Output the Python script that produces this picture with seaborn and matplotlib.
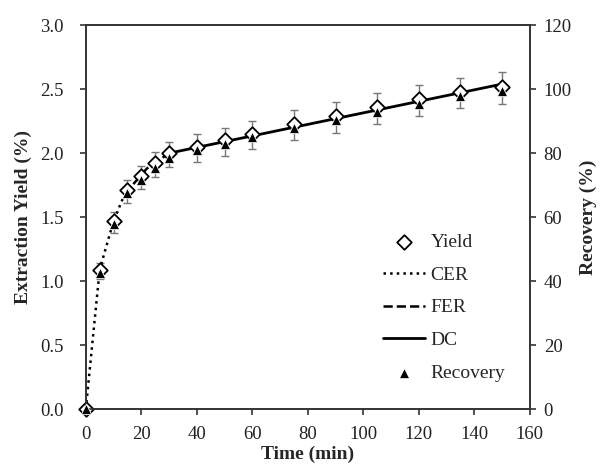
import numpy as np
import pandas as pd
import matplotlib
matplotlib.use("Agg")
from matplotlib import pyplot as plt
import seaborn as sns

# data
time = [0, 5, 10, 15, 20, 25, 30, 40, 50, 60, 75, 90, 105, 120, 135, 150]
yield_pct = [0.0, 1.09, 1.47, 1.71, 1.82, 1.92, 2.00, 2.05, 2.10, 2.15, 2.23, 2.29, 2.36, 2.42, 2.48, 2.52]
yield_err = [0.0, 0.06, 0.08, 0.09, 0.09, 0.10, 0.10, 0.11, 0.11, 0.11, 0.12, 0.12, 0.12, 0.12, 0.12, 0.125]
recovery = [0, 42.5, 58, 67.5, 71.5, 75.5, 78.5, 81, 83, 85, 88, 90.5, 93, 95.5, 98, 99.5]

cer_t = [0, 5, 10, 14]
cer_y = [0.0, 1.09, 1.47, 1.68]
fer_t = [14, 22, 30]
fer_y = [1.68, 1.88, 2.00]
dc_t = [30, 150]
dc_y = [2.00, 2.54]

df = pd.DataFrame({"time": time, "yield": yield_pct, "recovery": recovery})

sns.set_style("ticks")
plt.rcParams["font.family"] = ["Liberation Serif", "DejaVu Serif"]
plt.rcParams["font.size"] = 14

fig = plt.figure(figsize=(6, 4.67), dpi=100)
ax = fig.add_axes([0.143, 0.124, 0.74, 0.822])
ax2 = ax.twinx()

ax.errorbar(time, [y - 0.01 for y in yield_pct], yerr=yield_err, fmt="none",
            ecolor="#777777", elinewidth=1, capsize=3, zorder=2)
sns.lineplot(x=cer_t, y=cer_y, ax=ax, color="black", linestyle=":", lw=1.8, label="CER")
sns.lineplot(x=fer_t, y=fer_y, ax=ax, color="black", linestyle="--", lw=1.8, label="FER")
sns.lineplot(x=dc_t, y=dc_y, ax=ax, color="black", linestyle="-", lw=2.0, label="DC")
sns.scatterplot(data=df, x="time", y="yield", ax=ax, marker="D", s=55, clip_on=False,
                facecolor="white", edgecolor="black", linewidth=1.3, zorder=4, label="Yield")
sns.scatterplot(data=df, x="time", y="recovery", ax=ax2, marker="^", s=55, clip_on=False,
                color="black", zorder=5, label="Recovery")

ax.set_xlim(0, 160)
ax.set_ylim(0, 3.0)
ax2.set_ylim(0, 120)
ax.set_xticks(np.arange(0, 161, 20))
ax.set_yticks(np.arange(0, 3.01, 0.5))
ax.set_yticklabels([f"{v:.1f}" for v in np.arange(0, 3.01, 0.5)])
ax2.set_yticks(np.arange(0, 121, 20))

ax.set_xlabel("Time (min)", fontweight="bold", labelpad=2)
ax.set_ylabel("Extraction Yield (%)", fontweight="bold", labelpad=6)
ax2.set_ylabel("Recovery (%)", fontweight="bold", labelpad=6)

for a in (ax, ax2):
    for s in a.spines.values():
        s.set_linewidth(1.2)
        s.set_color("#333333")
    a.tick_params(direction="out", length=4, width=1.2, colors="#333333",
                  labelcolor="#222222", labelsize=13.5)
ax.tick_params(axis="y", pad=12)
ax.tick_params(axis="x", pad=8)
ax2.tick_params(axis="y", pad=6)

h1, l1 = ax.get_legend_handles_labels()
h2, l2 = ax2.get_legend_handles_labels()
handles = dict(zip(l1 + l2, h1 + h2))
order = ["Yield", "CER", "FER", "DC", "Recovery"]
if ax2.get_legend():
    ax2.get_legend().remove()
ax.legend([handles[k] for k in order], order, frameon=False, loc="lower right",
          bbox_to_anchor=(0.975, 0.035), handlelength=2.2, handletextpad=0.25,
          labelspacing=0.78, fontsize=14, borderaxespad=0.3)

fig.savefig("out.png", dpi=100)
